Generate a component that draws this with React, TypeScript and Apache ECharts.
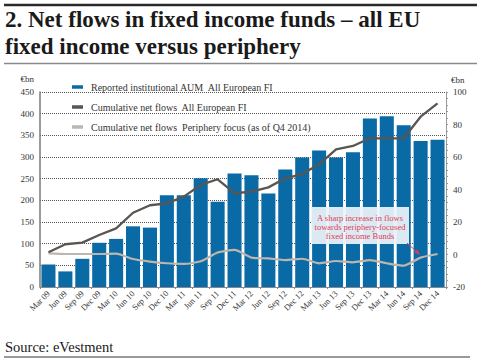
import React, { useEffect, useRef } from "react";
import * as echarts from "echarts";

const categories = [
  "Mar 09", "Jun 09", "Sep 09", "Dec 09", "Mar 10", "Jun 10", "Sep 10", "Dec 10",
  "Mar 11", "Jun 11", "Sep 11", "Dec 11", "Mar 12", "Jun 12", "Sep 12", "Dec 12",
  "Mar 13", "Jun 13", "Sep 13", "Dec 13", "Mar 14", "Jun 14", "Sep 14", "Dec 14",
];

const aumAllEuropean = [
  52, 36, 65, 102, 111, 140, 137, 212, 212, 251, 197, 262,
  258, 216, 271, 299, 315, 299, 311, 389, 394, 373, 337, 340,
];

const cumFlowsAllEuropean = [
  1.4, 6.3, 7.3, 12, 16.1, 25.7, 30.3, 31.5, 35.6, 42.8, 46.3, 37.7,
  38.7, 41.3, 46.9, 49.5, 55.5, 64.7, 66.8, 71.5, 71.5, 71.5, 84.8, 93,
];

const cumFlowsPeriphery = [
  0.7, 0.3, 0.3, 0.3, 0.5, -2.8, -4.4, -5.4, -5.8, -4.2, 1.2, 2.8,
  -1.9, -2.4, -3.4, -2.6, -5.4, -4, -4.8, -3.4, -5.4, -6.9, -1.9, 0.3,
];

const seriesNames = [
  "Reported institutional AUM  All European FI",
  "Cumulative net flows  All European FI",
  "Cumulative net flows  Periphery focus (as of Q4 2014)",
];

const titleLines = ["2. Net flows in fixed income funds \u2013 all EU", "fixed income versus periphery"];
const annotationLines = ["A sharp increase in flows", "towards periphery-focused", "fixed income Bunds"];
const sourceText = "Source: eVestment";
const unitLabel = "\u20acbn";

const SERIF = "'Liberation Serif', 'DejaVu Serif', serif";
const BLUE = "#0a6aa6";
const DARK = "#5b5552";
const LIGHT = "#bcb6af";
const RED = "#e23a55";

export default function App() {
  const ref = useRef<HTMLDivElement>(null);

  useEffect(() => {
    if (!ref.current) return;
    const chart = echarts.init(ref.current, null, { renderer: "svg" });
    const option: any = {
      animation: false,
      backgroundColor: "#ffffff",
      textStyle: { fontFamily: SERIF, color: "#333" },
      grid: { left: 40, right: 34, top: 92, bottom: 75, containLabel: false },
      legend: {
        orient: "vertical",
        left: 67,
        top: 77,
        itemWidth: 11,
        itemHeight: 3.5,
        itemGap: 10,
        icon: "rect",
        textStyle: { fontFamily: SERIF, fontSize: 10, color: "#333", padding: [0, 0, 0, 3] },
        data: seriesNames,
      },
      xAxis: {
        type: "category",
        data: categories,
        axisLine: { show: true, lineStyle: { color: "#888", width: 1 } },
        axisTick: { show: true, length: 2, lineStyle: { color: "#888" } },
        axisLabel: {
          interval: 0,
          rotate: 45,
          margin: 5,
          fontFamily: SERIF,
          fontSize: 8.5,
          color: "#333",
        },
      },
      yAxis: [
        {
          type: "value",
          min: 0,
          max: 450,
          interval: 50,
          axisLine: { show: true, lineStyle: { color: "#7a7a7a", width: 1.5 } },
          axisTick: { show: false },
          axisLabel: { margin: 6, fontFamily: SERIF, fontSize: 9, color: "#333" },
          splitLine: { show: true, lineStyle: { color: "#555", type: "dotted", width: 1 } },
        },
        {
          type: "value",
          min: -20,
          max: 100,
          interval: 20,
          position: "right",
          axisLine: { show: true, lineStyle: { color: "#999", width: 1 } },
          axisTick: { show: true, length: 2, lineStyle: { color: "#999" } },
          minorTick: { show: true, splitNumber: 5, length: 2, lineStyle: { color: "#999" } },
          axisLabel: { margin: 7, fontFamily: SERIF, fontSize: 9, color: "#333" },
          splitLine: { show: false },
        },
      ],
      series: [
        {
          name: seriesNames[0],
          type: "bar",
          data: aumAllEuropean,
          yAxisIndex: 0,
          barCategoryGap: "17%",
          itemStyle: { color: BLUE },
          z: 2,
        },
        {
          name: seriesNames[1],
          type: "line",
          data: cumFlowsAllEuropean,
          yAxisIndex: 1,
          symbol: "none",
          lineStyle: { color: DARK, width: 2.3 },
          itemStyle: { color: DARK },
          z: 4,
        },
        {
          name: seriesNames[2],
          type: "line",
          data: cumFlowsPeriphery,
          yAxisIndex: 1,
          symbol: "none",
          smooth: 0.2,
          lineStyle: { color: LIGHT, width: 2.2 },
          itemStyle: { color: LIGHT },
          z: 3,
        },
      ],
      graphic: [
        { type: "line", shape: { x1: 4, y1: 5, x2: 477, y2: 5 }, style: { stroke: "#2a2a2a", lineWidth: 2.5 } },
        {
          type: "text",
          style: { x: 5, y: 19, text: titleLines[0], font: `bold 23px ${SERIF}`, fill: "#1a1a1a", textVerticalAlign: "middle" },
        },
        {
          type: "text",
          style: { x: 5, y: 46, text: titleLines[1], font: `bold 23px ${SERIF}`, fill: "#1a1a1a", textVerticalAlign: "middle" },
        },
        { type: "line", shape: { x1: 4, y1: 63.5, x2: 477, y2: 63.5 }, style: { stroke: "#8a8a8a", lineWidth: 1.5 } },
        {
          type: "text",
          style: { x: 34, y: 79, text: unitLabel, font: `9px ${SERIF}`, fill: "#333", textAlign: "right", textVerticalAlign: "middle" },
        },
        {
          type: "text",
          style: { x: 451, y: 80, text: unitLabel, font: `9px ${SERIF}`, fill: "#333", textAlign: "left", textVerticalAlign: "middle" },
        },
        {
          type: "rect",
          z: 100,
          shape: { x: 311, y: 207, width: 98, height: 37 },
          style: { fill: "rgba(236,243,249,0.93)" },
        },
        ...annotationLines.map((t, i) => ({
          type: "text",
          z: 101,
          style: {
            x: 360,
            y: 217.5 + i * 9,
            text: t,
            font: `8.5px ${SERIF}`,
            fill: RED,
            textAlign: "center",
            textVerticalAlign: "middle",
          },
        })),
        { type: "line", z: 101, shape: { x1: 407, y1: 243, x2: 417, y2: 252 }, style: { stroke: RED, lineWidth: 1 } },
        { type: "polygon", z: 101, shape: { points: [[420, 255], [414.5, 252.5], [417.5, 249.5]] }, style: { fill: RED } },
        {
          type: "text",
          style: { x: 5, y: 347, text: sourceText, font: `14.5px ${SERIF}`, fill: "#1a1a1a", textVerticalAlign: "middle" },
        },
        { type: "line", shape: { x1: 4, y1: 357, x2: 470, y2: 357 }, style: { stroke: "#777", lineWidth: 1.5 } },
      ],
    };
    chart.setOption(option);
    return () => chart.dispose();
  }, []);

  return (
    <div
      ref={ref}
      style={{ position: "fixed", left: 0, top: 0, width: 480, height: 362, background: "#fff" }}
    />
  );
}
